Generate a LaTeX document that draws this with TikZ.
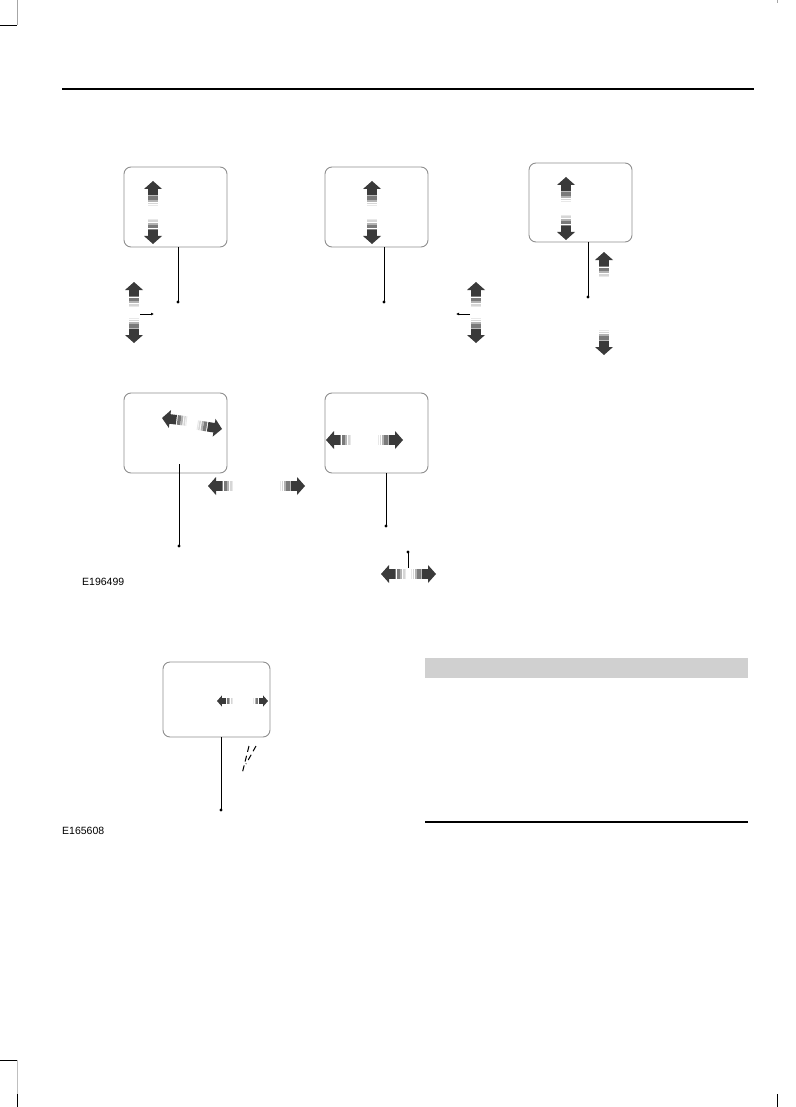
\documentclass[tikz,border=0pt]{standalone}
\usepackage{fontspec}
\setmainfont{Liberation Sans}
\usetikzlibrary{arrows.meta}
\definecolor{arrdark}{HTML}{3A3A3A}
\definecolor{boxgray}{HTML}{8E8E8E}
\definecolor{barfill}{HTML}{D0D0D0}
\tikzset{
  box/.style={draw=boxgray, line width=0.9pt, rounded corners=7pt, inner sep=0pt},
  conn/.style={line width=0.8pt, black},
  dotend/.style={radius=1.7pt},
  code/.style={font=\fontsize{10.5}{12}\selectfont, inner sep=0pt, anchor=west},
  arr/.pic={
    \fill[arrdark] (0,0) -- (-9,8) -- (-4.8,8) -- (-4.8,14.5) -- (4.8,14.5) -- (4.8,8) -- (9,8) -- cycle;
    \fill[black!52] (-4.8,15.5) rectangle (4.8,19);
    \fill[black!30] (-4.8,19) rectangle (4.8,21);
    \fill[black!16] (-4.8,22) rectangle (4.8,23.5);
    \fill[black!9] (-4.8,24) rectangle (4.8,25);
  }
}
\begin{document}
\begin{tikzpicture}[x=1pt,y=-1pt]
\useasboundingbox (0,0) rectangle (795,1107);
% crop marks
\draw[black!35, line width=0.6pt] (17,0) -- (17,25);
\draw[black, line width=0.9pt] (0,25) -- (17,25);
\draw[black!35, line width=0.6pt] (777,0) -- (777,3);
\draw[black, line width=0.9pt] (0,1060) -- (17,1060);
\draw[black!25, line width=0.6pt] (17,1060) -- (17,1094);
\draw[black, line width=0.6pt] (17,1094) -- (17,1107);
\draw[black, line width=0.6pt] (777,1094) -- (777,1107);
% header rule
\draw[line width=1.3pt] (62,89) -- (754,89);

% ---- Box 1
\node[box, minimum width=103pt, minimum height=80pt] (b1) at (175.5,207) {};
\pic at (153,181) {arr};
\pic[rotate=180] at (153,244) {arr};
\coordinate (c1) at (178,302);
\draw[conn] (b1.south -| c1) -- (c1);
\fill[black] (c1) circle[dotend];
\pic at (134,282) {arr};
\pic[rotate=180] at (134,343) {arr};
\coordinate (s1a) at (140,314);
\coordinate (s1b) at (154,314);
\draw[conn, -{Latex[length=3pt,width=3pt]}] (s1a) -- (s1b);

% ---- Box 2
\node[box, minimum width=103pt, minimum height=80pt] (b2) at (376.5,207) {};
\pic at (372,181) {arr};
\pic[rotate=180] at (372,244) {arr};
\coordinate (c2) at (384,302);
\draw[conn] (b2.south -| c2) -- (c2);
\fill[black] (c2) circle[dotend];
\pic at (476,282) {arr};
\pic[rotate=180] at (476,343) {arr};
\coordinate (s2a) at (470,314);
\coordinate (s2b) at (456,314);
\draw[conn, -{Latex[length=3pt,width=3pt]}] (s2a) -- (s2b);

% ---- Box 3
\node[box, minimum width=103pt, minimum height=79pt] (b3) at (580.5,202.5) {};
\pic at (566,177) {arr};
\pic[rotate=180] at (566,240) {arr};
\coordinate (c3) at (588,297);
\draw[conn] (b3.south -| c3) -- (c3);
\fill[black] (c3) circle[dotend];
\pic at (604,252) {arr};
\pic[rotate=180] at (604,355) {arr};

% ---- Box 4
\node[box, minimum width=103pt, minimum height=80pt] (b4) at (175.5,433) {};
\pic[rotate=83] at (162,418) {arr};
\pic[rotate=-99] at (222,429) {arr};
\coordinate (c4a) at (179,464);
\coordinate (c4) at (179,546);
\draw[conn] (c4a) -- (c4);
\fill[black] (c4) circle[dotend];
\pic[rotate=90] at (208,486) {arr};
\pic[rotate=-90] at (305,486) {arr};
\node[code] (e1) at (82,582) {E196499};

% ---- Box 5
\node[box, minimum width=103pt, minimum height=80pt] (b5) at (376.5,433) {};
\pic[rotate=90] at (326,440) {arr};
\pic[rotate=-90] at (403,440) {arr};
\coordinate (c5) at (386,526);
\draw[conn] (b5.south -| c5) -- (c5);
\fill[black] (c5) circle[dotend];
\coordinate (c5a) at (408,568);
\coordinate (c5b) at (408,552);
\draw[conn] (c5a) -- (c5b);
\fill[black] (c5b) circle[dotend];
\pic[rotate=90] at (381,574) {arr};
\pic[rotate=-90] at (436,574) {arr};

% ---- Box 6
\node[box, minimum width=107pt, minimum height=75pt] (b6) at (216.5,699.5) {};
\pic[rotate=90, scale=0.62] at (217,701) {arr};
\pic[rotate=-90, scale=0.62] at (268,701) {arr};
\coordinate (c6) at (221,810);
\draw[conn] (b6.south -| c6) -- (c6);
\fill[black] (c6) circle[dotend];
\coordinate (d1a) at (242,774);
\coordinate (d1b) at (249,746);
\coordinate (d2a) at (246,764);
\coordinate (d2b) at (256,746);
\draw[line width=1pt, dash pattern=on 6pt off 4pt] (d1b) -- (d1a);
\draw[line width=1pt, dash pattern=on 6pt off 4pt] (d2b) -- (d2a);
\node[code] (e2) at (62,831) {E165608};

% ---- right panel
\fill[barfill] (425,658) rectangle (748,678);
\draw[line width=1.1pt] (425,822) -- (748,822);
\end{tikzpicture}
\end{document}
